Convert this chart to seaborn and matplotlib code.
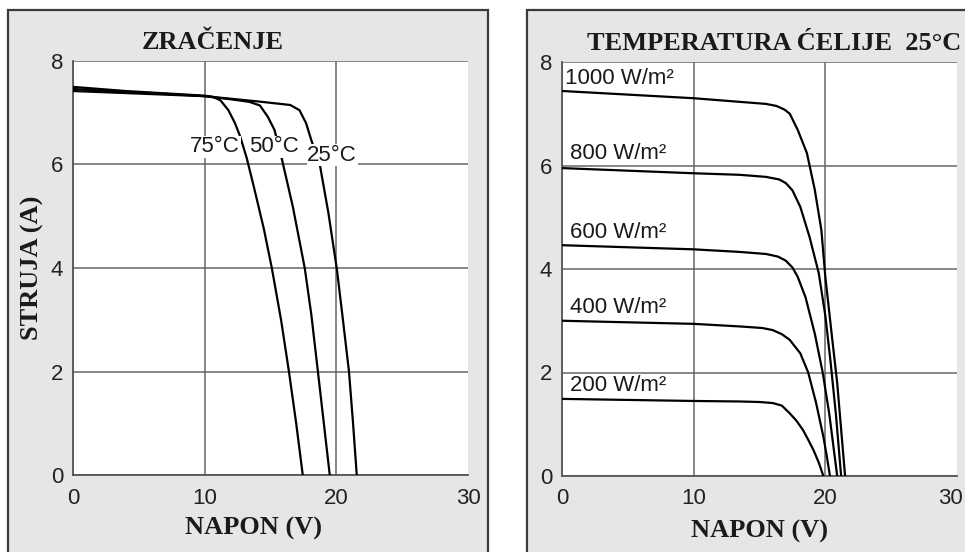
import pandas as pd
import matplotlib
matplotlib.use("Agg")
import matplotlib.pyplot as plt
import matplotlib.transforms as mtransforms
from matplotlib.patches import Rectangle
import seaborn as sns

# ==== Data: left panel, I-V curves at three cell temperatures ====
v_75 = [0, 2, 4, 6, 8, 10, 10.6, 11.2, 11.8, 12.3, 12.7, 13.2, 13.8, 14.5, 15.1, 15.8, 16.4, 16.95, 17.45]
i_75 = [7.50, 7.46, 7.42, 7.39, 7.36, 7.33, 7.31, 7.24, 7.05, 6.8, 6.54, 6.12, 5.5, 4.75, 4.0, 3.0, 2.0, 1.0, 0.0]
v_50 = [0, 2, 4, 6, 8, 10, 12, 13.4, 14.2, 14.8, 15.3, 15.85, 16.7, 17.6, 18.1, 18.6, 19.05, 19.5]
i_50 = [7.46, 7.43, 7.40, 7.38, 7.35, 7.32, 7.26, 7.21, 7.14, 6.92, 6.67, 6.12, 5.18, 4.0, 3.1, 2.0, 1.0, 0.0]
v_25 = [0, 2, 4, 6, 8, 10, 12, 14, 16.5, 17.2, 17.7, 18.1, 18.75, 19.4, 20.05, 20.5, 20.96, 21.27, 21.55]
i_25 = [7.42, 7.40, 7.38, 7.36, 7.34, 7.32, 7.27, 7.22, 7.15, 7.05, 6.8, 6.47, 5.99, 5.06, 3.96, 3.0, 2.0, 1.0, 0.0]
temp_labels = ["75°C", "50°C", "25°C"]

# ==== Data: right panel, I-V curves at five irradiance levels ====
v_1000 = [0, 5, 10, 13.5, 15.5, 16.3, 16.9, 17.3, 17.9, 18.6, 19.2, 19.7, 20.0, 20.5, 20.9, 21.2, 21.5]
i_1000 = [7.44, 7.37, 7.30, 7.23, 7.19, 7.15, 7.08, 7.0, 6.69, 6.24, 5.53, 4.75, 3.85, 2.7, 1.8, 0.9, 0.0]
v_800 = [0, 5, 10, 13.5, 15.5, 16.5, 17.0, 17.5, 18.1, 18.8, 19.5, 20.0, 20.4, 20.8, 21.2]
i_800 = [5.95, 5.90, 5.85, 5.82, 5.78, 5.73, 5.66, 5.52, 5.2, 4.62, 3.92, 3.1, 2.2, 1.2, 0.0]
v_600 = [0, 5, 10, 13.5, 15.5, 16.4, 17.0, 17.5, 17.9, 18.5, 19.2, 19.8, 20.3, 20.6, 20.9]
i_600 = [4.46, 4.42, 4.38, 4.33, 4.29, 4.24, 4.16, 4.03, 3.85, 3.45, 2.75, 2.0, 1.2, 0.6, 0.0]
v_400 = [0, 5, 10, 13.5, 15.2, 16.0, 16.7, 17.3, 18.1, 18.7, 19.3, 19.85, 20.1, 20.35]
i_400 = [3.00, 2.97, 2.94, 2.89, 2.86, 2.82, 2.74, 2.63, 2.37, 2.0, 1.41, 0.76, 0.4, 0.0]
v_200 = [0, 5, 10, 13.5, 15.0, 16.0, 16.7, 17.3, 17.8, 18.3, 18.7, 19.1, 19.5, 19.85]
i_200 = [1.49, 1.47, 1.45, 1.44, 1.43, 1.41, 1.36, 1.21, 1.07, 0.89, 0.70, 0.5, 0.26, 0.0]
irr_labels = ["1000 W/m²", "800 W/m²", "600 W/m²", "400 W/m²", "200 W/m²"]

x_ticks = [0, 10, 20, 30]
y_ticks = [0, 2, 4, 6, 8]

# ==== Build long tables ====
def make_df(vs, is_, names):
    parts = [pd.DataFrame({"V": v, "I": i, "curve": n}) for v, i, n in zip(vs, is_, names)]
    return pd.concat(parts, ignore_index=True)

temp_df = make_df([v_75, v_50, v_25], [i_75, i_50, i_25], temp_labels)
irr_df = make_df([v_1000, v_800, v_600, v_400, v_200],
                 [i_1000, i_800, i_600, i_400, i_200], irr_labels)

# ==== Style ====
sns.set_theme(style="white")
plt.rcParams["font.family"] = ["Liberation Sans", "DejaVu Sans"]
serif = {"family": ["Liberation Serif", "DejaVu Serif"], "weight": "bold", "size": 19, "color": "#1a1a1a"}

fig = plt.figure(figsize=(9.65, 5.52), dpi=100, facecolor="white")

# gray panel frames
fig.patches.append(Rectangle((8 / 965, -0.05), 480 / 965, 1.05 - 10 / 552,
                             transform=fig.transFigure, facecolor="#e6e6e6",
                             edgecolor="#3a3a3a", lw=1.6, zorder=-1))
fig.patches.append(Rectangle((527 / 965, -0.05), 0.5, 1.05 - 10 / 552,
                             transform=fig.transFigure, facecolor="#e6e6e6",
                             edgecolor="#3a3a3a", lw=1.6, zorder=-1))

ax1 = fig.add_axes([73 / 965, 77 / 552, 395 / 965, 414 / 552])
ax2 = fig.add_axes([562 / 965, 76 / 552, 395 / 965, 414 / 552])

for ax in (ax1, ax2):
    ax.set_facecolor("white")
    ax.set_xlim(0, 30)
    ax.set_ylim(0, 8)
    ax.set_xticks(x_ticks)
    ax.set_yticks(y_ticks)
    ax.tick_params(length=0, labelsize=16, labelcolor="#222222")
    ax.tick_params(axis="y", pad=7)
    ax.tick_params(axis="x", pad=9)
    for s in ["top", "right"]:
        ax.spines[s].set_visible(False)
    for s in ["left", "bottom"]:
        ax.spines[s].set_color("#555555")
        ax.spines[s].set_linewidth(1.3)
    ax.grid(True, color="#666666", lw=1.1)
    ax.xaxis.get_gridlines()[-1].set_visible(False)

# ==== Left panel ====
sns.lineplot(data=temp_df, x="V", y="I", units="curve", estimator=None, sort=False,
             color="black", lw=1.6, ax=ax1, zorder=3)
ax1.set_xlabel("")
ax1.set_ylabel("")
for lbl, (x, y) in zip(temp_labels, [(8.9, 6.34), (13.4, 6.34), (17.8, 6.18)]):
    ax1.text(x, y, lbl, ha="left", va="center", fontsize=16, color="#1a1a1a", zorder=4,
             bbox=dict(facecolor="white", edgecolor="none", pad=0.5))
ax1.text(0.354, 1.045, "ZRAČENJE", transform=ax1.transAxes, ha="center", va="center", fontdict=serif)
ax1.text(0.458, -0.13, "NAPON (V)", transform=ax1.transAxes, ha="center", va="center", fontdict=serif)
ax1.text(-0.102, 0.5, "STRUJA (A)", transform=ax1.transAxes, ha="center", va="center",
         rotation=90, fontdict=serif)

# ==== Right panel ====
sns.lineplot(data=irr_df, x="V", y="I", units="curve", estimator=None, sort=False,
             color="black", lw=1.6, ax=ax2, zorder=3)
ax2.set_xlabel("")
ax2.set_ylabel("")
for lbl, (x, y) in zip(irr_labels, [(0.25, 7.69), (0.6, 6.24), (0.6, 4.71), (0.6, 3.25), (0.6, 1.74)]):
    ax2.text(x, y, lbl, ha="left", va="center", fontsize=16, color="#1a1a1a", zorder=4)
ax2.text(0.063, 1.045, "TEMPERATURA ĆELIJE  25°C", transform=ax2.transAxes, ha="left", va="center",
         fontdict=serif)
ax2.text(0.5, -0.135, "NAPON (V)", transform=ax2.transAxes, ha="center", va="center", fontdict=serif)

# last x tick label of right panel sits against the image edge
fig.canvas.draw()
last = ax2.get_xticklabels()[-1]
last.set_horizontalalignment("right")
last.set_transform(last.get_transform() + mtransforms.ScaledTranslation(6 / 100, 0, fig.dpi_scale_trans))

fig.savefig("out.png", dpi=100, facecolor="white")
